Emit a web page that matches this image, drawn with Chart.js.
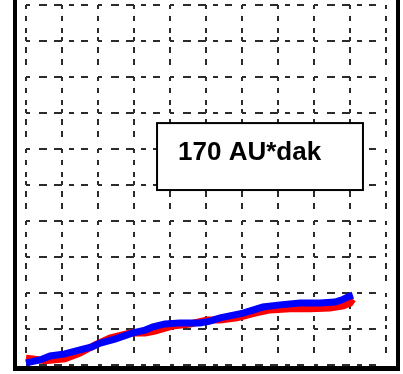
<!DOCTYPE html>
<html>
<head>
<meta charset="utf-8">
<script src="https://cdn.jsdelivr.net/npm/chart.js@4/dist/chart.umd.min.js"></script>
<style>
  html, body { margin: 0; padding: 0; background: #fff; overflow: hidden; }
  canvas { display: block; }
</style>
</head>
<body>
<canvas id="auc" width="403" height="374"></canvas>
<script>
// Cumulative curves, in grid units (10 x 10 divisions)
const xRed  = [0, 0.19, 0.53, 1.08, 1.5, 1.92, 2.33, 2.89, 3.31, 3.58, 4.06, 4.56, 5.03, 5.39, 5.86, 6.36, 6.78, 7.33, 7.89, 8.44, 8.81, 9.0, 9.08];
const yRed  = [0.19, 0.17, 0.12, 0.17, 0.33, 0.56, 0.75, 0.89, 0.89, 0.94, 1.08, 1.14, 1.25, 1.25, 1.31, 1.44, 1.53, 1.56, 1.56, 1.58, 1.64, 1.72, 1.83];
const xBlue = [0, 0.39, 0.67, 1.08, 1.5, 1.83, 2.06, 2.47, 2.97, 3.31, 3.53, 3.86, 4.28, 4.83, 5.11, 5.39, 6.03, 6.58, 7.06, 7.61, 8.17, 8.58, 8.78, 8.94, 9.08];
const yBlue = [0.06, 0.14, 0.25, 0.31, 0.42, 0.5, 0.61, 0.72, 0.89, 0.97, 1.06, 1.14, 1.17, 1.17, 1.22, 1.31, 1.44, 1.61, 1.67, 1.72, 1.72, 1.75, 1.81, 1.89, 1.94];

// Axis range and tick step of the dashed grid
const axisMin = 0;
const axisMax = 10;
const axisStep = 1;

// Area-under-curve label
const aucLabel = '170 AU*dak';

const toPoints = (xs, ys) => xs.map((x, i) => ({ x: x, y: ys[i] }));

// Frame around the plot and the boxed AUC label
const framePlugin = {
  id: 'frameAndLabel',
  afterDraw(chart) {
    const ctx = chart.ctx;
    const xs = chart.scales.x, ys = chart.scales.y;
    ctx.save();
    // label box
    const l = xs.getPixelForValue(3.64), r = xs.getPixelForValue(9.36);
    const t = ys.getPixelForValue(6.72), b = ys.getPixelForValue(4.86);
    ctx.fillStyle = '#fff';
    ctx.fillRect(l, t, r - l, b - t);
    ctx.strokeStyle = '#000';
    ctx.lineWidth = 2;
    ctx.strokeRect(l, t, r - l, b - t);
    ctx.fillStyle = '#000';
    ctx.font = 'bold 26px "Liberation Sans", Arial, sans-serif';
    ctx.textAlign = 'left';
    ctx.textBaseline = 'alphabetic';
    ctx.fillText(aucLabel, l + 21, t + 37);
    // outer frame
    ctx.fillStyle = '#000';
    ctx.fillRect(13, 0, 4, 371);
    ctx.fillRect(396, 0, 4, 371);
    ctx.fillRect(13, 366, 387, 5);
    ctx.restore();
  }
};

const gridColor = '#2c2c2c';

new Chart(document.getElementById('auc'), {
  type: 'line',
  data: {
    // the first dataset is painted last, so blue sits on top of red
    datasets: [
      {
        data: toPoints(xBlue, yBlue),
        borderColor: '#0000ff',
        borderWidth: 7,
        pointRadius: 0,
        tension: 0,
        borderJoinStyle: 'miter',
        clip: false
      },
      {
        data: toPoints(xRed, yRed),
        borderColor: '#ff0000',
        borderWidth: 7,
        pointRadius: 0,
        tension: 0,
        borderJoinStyle: 'miter',
        clip: false
      }
    ]
  },
  options: {
    responsive: false,
    animation: false,
    devicePixelRatio: 1,
    layout: { padding: { left: 26, right: 17, top: 5, bottom: 9 } },
    plugins: { legend: { display: false }, tooltip: { enabled: false } },
    scales: {
      x: {
        type: 'linear',
        min: axisMin, max: axisMax,
        ticks: { display: false, stepSize: axisStep },
        grid: { color: gridColor, lineWidth: 2, drawTicks: false },
        border: { display: false, dash: [4, 7, 5, 7, 5, 4, 4, 6, 6, 6, 6, 12] },
        afterFit(s) { s.height = 0; }
      },
      y: {
        type: 'linear',
        min: axisMin, max: axisMax,
        ticks: { display: false, stepSize: axisStep },
        grid: { color: gridColor, lineWidth: 2, drawTicks: false },
        border: { display: false, dash: [4, 9, 8, 7, 8, 7, 5, 7, 7, 10] },
        afterFit(s) { s.width = 0; }
      }
    }
  },
  plugins: [framePlugin]
});
</script>
</body>
</html>
